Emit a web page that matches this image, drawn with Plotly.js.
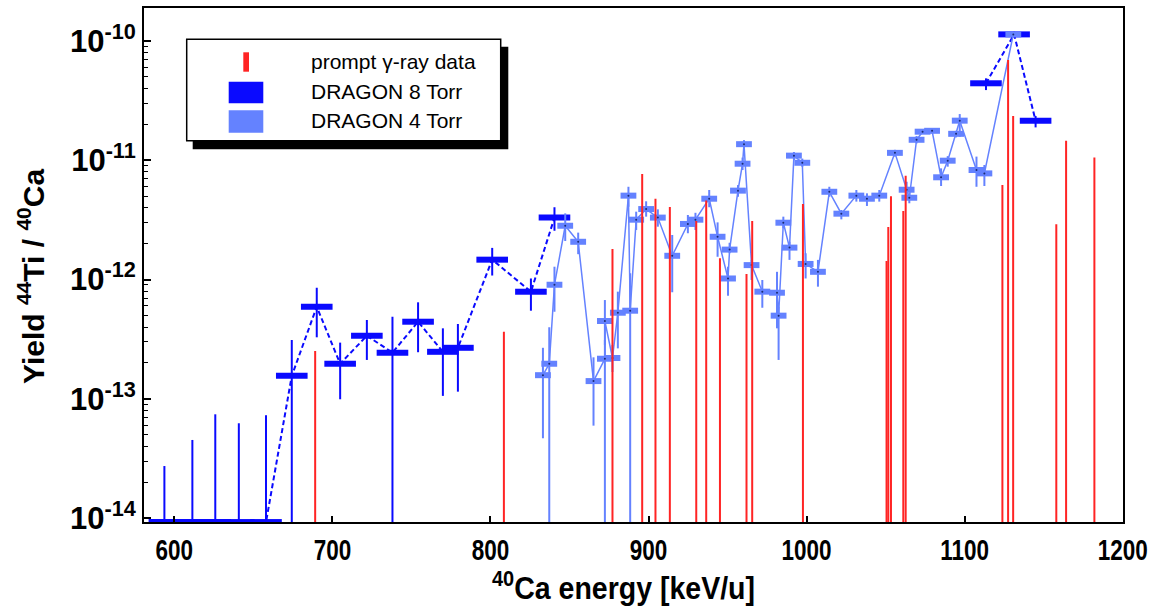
<!DOCTYPE html>
<html><head><meta charset="utf-8">
<script src="https://cdn.plot.ly/plotly-3.0.1.min.js"></script>
<style>html,body{margin:0;padding:0;background:#fff}#chart{width:1162px;height:610px}</style>
</head><body><div id="chart"></div>
<script>
// ---------- DRAGON 8 Torr (energy keV/u, yield, lower, upper, run) ----------
const e8 = [593.7, 611.4, 625.9, 640.8, 658.0, 674.3, 690.1, 704.9, 721.8, 738.0, 754.2, 769.9, 779.4, 801.1, 825.6, 840.5, 1113.5, 1131.3, 1144.9];
const y8 = [9.3e-15, 9.3e-15, 9.3e-15, 9.3e-15, 9.3e-15, 1.56e-13, 5.91e-13, 1.97e-13, 3.38e-13, 2.44e-13, 4.43e-13, 2.48e-13, 2.68e-13, 1.466e-12, 7.9e-13, 3.3e-12, 4.4e-11, 1.13e-10, 2.14e-11];
const lo8 = [9.3e-15, 9.3e-15, 9.3e-15, 9.3e-15, 9.3e-15, 1e-16, 3.28e-13, 9.93e-14, 2.12e-13, 1e-16, 2.46e-13, 1.06e-13, 1.15e-13, 1.08e-12, 5.48e-13, 2.56e-12, 3.86e-11, 1.08e-10, 1.88e-11];
const hi8 = [2.74e-14, 4.53e-14, 7.43e-14, 6.25e-14, 7.3e-14, 3.11e-13, 8.53e-13, 2.96e-13, 4.58e-13, 4.88e-13, 6.44e-13, 3.9e-13, 4.24e-13, 1.84e-12, 1.02e-12, 4.03e-12, 4.84e-11, 1.19e-10, 2.34e-11];
const run8 = [1,1,1,1,1,1,1,1,1,1,1,1,1,1,1,1,2,2,2];
const dE8 = 10;

// ---------- DRAGON 4 Torr ----------
const e4 = [833.2, 837.2, 840.5, 847.3, 855.5, 865.2, 872.4, 872.4, 877.2, 880.6, 887.3, 888.4, 892.2, 898.5, 905.9, 915.0, 924.9, 929.7, 938.4, 943.7, 950.3, 951.3, 956.6, 959.5, 960.4, 965.2, 972.0, 981.3, 982.3, 985.3, 989.2, 992.0, 997.3, 999.4, 1007.2, 1014.4, 1022.0, 1031.5, 1038.2, 1046.0, 1055.9, 1063.3, 1065.0, 1069.6, 1073.4, 1079.4, 1085.1, 1089.3, 1094.6, 1096.9, 1107.5, 1112.5, 1130.8];
const y4 = [1.58e-13, 1.97e-13, 9.04e-13, 2.82e-12, 2.07e-12, 1.41e-13, 2.17e-13, 4.49e-13, 2.2e-13, 5.27e-13, 5.04e-12, 5.48e-13, 3.17e-12, 3.89e-12, 3.30e-12, 1.58e-12, 2.92e-12, 3.17e-12, 4.75e-12, 2.28e-12, 1.02e-12, 1.78e-12, 5.55e-12, 9.33e-12, 1.36e-11, 1.32e-12, 7.91e-13, 7.75e-13, 4.98e-13, 2.99e-12, 1.85e-12, 1.09e-11, 9.5e-12, 1.35e-12, 1.16e-12, 5.43e-12, 3.56e-12, 5.04e-12, 4.75e-12, 5.04e-12, 1.15e-11, 5.65e-12, 4.84e-12, 1.48e-11, 1.73e-11, 1.76e-11, 7.18e-12, 9.89e-12, 1.66e-11, 2.14e-11, 8.26e-12, 7.74e-12, 1.13e-10];
const lo4 = [4.68e-14, 1e-16, 5.37e-13, 2.10e-12, 1.63e-12, 5.97e-14, 1e-16, 2.83e-13, 1.68e-13, 2.65e-13, 4.07e-12, 1e-16, 2.6e-12, 3.36e-12, 2.77e-12, 7.82e-13, 2.44e-12, 2.6e-12, 4.03e-12, 1.55e-12, 7.31e-13, 1.66e-12, 4.93e-12, 8.26e-12, 1.26e-11, 9.91e-13, 5.8e-13, 3.9e-13, 2.12e-13, 2.69e-12, 1.46e-12, 1.0e-11, 8.8e-12, 1.02e-12, 8.71e-13, 4.93e-12, 3.19e-12, 4.49e-12, 4.13e-12, 4.49e-12, 1.07e-11, 4.93e-12, 4.35e-12, 1.38e-11, 1.66e-11, 1.68e-11, 6.07e-12, 8.81e-12, 1.55e-11, 1.57e-11, 5.98e-12, 6.07e-12, 1.08e-10];
const hi4 = [2.68e-13, 3.98e-13, 1.28e-12, 3.58e-12, 2.47e-12, 2.23e-13, 3.11e-13, 6.73e-13, 2.83e-13, 7.91e-13, 5.98e-12, 1.13e-12, 3.7e-12, 4.52e-12, 3.87e-12, 2.36e-12, 3.47e-12, 3.62e-12, 5.62e-12, 3.01e-12, 1.28e-12, 2.03e-12, 6.18e-12, 1.05e-11, 1.47e-11, 1.46e-12, 9.91e-13, 1.16e-12, 5.91e-13, 3.36e-12, 2.07e-12, 1.17e-11, 1.03e-11, 1.66e-12, 1.46e-12, 5.98e-12, 3.82e-12, 5.62e-12, 5.27e-12, 5.62e-12, 1.22e-11, 6.59e-12, 5.27e-12, 1.59e-11, 1.82e-11, 1.84e-11, 8.53e-12, 1.08e-11, 1.76e-11, 2.43e-11, 1.07e-11, 9.1e-12, 1.18e-10];
const dE4 = 5;

// ---------- prompt gamma-ray data ----------
const eG = [689.1, 808.5, 877.2, 896.0, 904.4, 913.5, 930.2, 936.5, 945.2, 962.0, 965.6, 997.7, 1050.6, 1051.7, 1053.4, 1061.2, 1062.7, 1123.9, 1127.5, 1130.7, 1158.0, 1164.2, 1182.1];
const yG = [2.52e-13, 3.66e-13, 1.80e-12, 7.66e-12, 4.75e-12, 4.05e-12, 3.09e-12, 4.6e-12, 1.51e-12, 1.11e-12, 3.09e-12, 4.28e-12, 1.43e-12, 2.75e-12, 4.98e-12, 3.75e-12, 7.4e-12, 6.18e-12, 6.89e-11, 2.34e-11, 2.9e-12, 1.45e-11, 1.05e-11];

// ---------- axis ticks ----------
const yTickVals = [1e-14, 1e-13, 1e-12, 1e-11, 1e-10];
const yTickText = ['10<sup>-14</sup>', '10<sup>-13</sup>', '10<sup>-12</sup>', '10<sup>-11</sup>', '10<sup>-10</sup>'];
const xTickVals = [600, 700, 800, 900, 1000, 1100, 1200];

const C8 = '#0a0aff', C4 = '#6482ff', CR = '#ff2424';
const FLOOR = 1e-16;
const W = 1162, H = 610, M = {l:144, r:39, t:8, b:88};
const pw = W - M.l - M.r, ph = H - M.t - M.b;
const px = x => (x - M.l) / pw;
const py = y => (H - M.b - y) / ph;
const SANS = 'Liberation Sans, Arial, sans-serif';

const traces = [];
[...new Set(run8)].forEach(r => {
  const idx = run8.map((v,i)=>v===r?i:-1).filter(i=>i>=0);
  traces.push({
    type:'scatter', mode:'lines', showlegend:false,
    x: idx.map(i=>e8[i]), y: idx.map(i=>y8[i]),
    line:{color:C8, width:2, dash:'5px,3px'},
    error_x:{type:'data', array: idx.map(()=>dE8), color:C8, thickness:6, width:0},
    error_y:{type:'data', symmetric:false, array: idx.map(i=>hi8[i]-y8[i]), arrayminus: idx.map(i=>Math.max(y8[i]-lo8[i],0)), color:C8, thickness:2, width:0}
  });
});
traces.push({
  type:'scatter', mode:'lines+markers', showlegend:false,
  x:e4, y:y4,
  line:{color:C4, width:1.5},
  marker:{size:2, color:'#1a2a70'},
  error_x:{type:'data', array:e4.map(()=>dE4), color:C4, thickness:6, width:0},
  error_y:{type:'data', symmetric:false, array:y4.map((v,i)=>hi4[i]-v), arrayminus:y4.map((v,i)=>Math.max(v-lo4[i],0)), color:C4, thickness:2, width:0}
});
traces.push({
  type:'scatter', mode:'markers', showlegend:false,
  x:eG, y:yG, marker:{size:1, opacity:0},
  error_y:{type:'data', symmetric:false, array:yG.map(()=>0), arrayminus:yG.map(v=>v-FLOOR), color:CR, thickness:2, width:0}
});

const minorVals = [];
for (let d=-15; d<=-10; d++) for (let k=2; k<=9; k++) minorVals.push(k*Math.pow(10,d));

const shapes = [
  {type:'rect', xref:'paper', yref:'paper', x0:px(192.7), x1:px(508.3), y0:py(149.3), y1:py(46.7), fillcolor:'#000', line:{width:0}, layer:'above'},
  {type:'rect', xref:'paper', yref:'paper', x0:px(186.7), x1:px(500.7), y0:py(140.7), y1:py(39.3), fillcolor:'#fff', line:{color:'#000', width:1.5}, layer:'above'},
  {type:'rect', xref:'paper', yref:'paper', x0:px(243.3), x1:px(249), y0:py(71.7), y1:py(52.3), fillcolor:CR, line:{width:0}, layer:'above'},
  {type:'rect', xref:'paper', yref:'paper', x0:px(228.7), x1:px(263.3), y0:py(103.3), y1:py(81.7), fillcolor:C8, line:{width:0}, layer:'above'},
  {type:'rect', xref:'paper', yref:'paper', x0:px(228.7), x1:px(263.3), y0:py(132.7), y1:py(110.3), fillcolor:C4, line:{width:0}, layer:'above'}
];
const legFont = {family:SANS, size:21, color:'#000'};
const annotations = [
  ['prompt γ-ray data', 61.7], ['DRAGON 8 Torr', 91.7], ['DRAGON 4 Torr', 120.7]
].map(([t,y]) => ({xref:'paper', yref:'paper', x:px(309.3), y:py(y), xanchor:'left', yanchor:'middle', text:t, showarrow:false, font:legFont}));
annotations.push({xref:'paper', yref:'paper', x:px(31), y:py(277), xanchor:'center', yanchor:'middle', textangle:-90,
  text:'Yield <sup>44</sup>Ti / <sup>40</sup>Ca', showarrow:false, font:{family:SANS, size:30, weight:'bold', color:'#000'}});

const layout = {
  width:W, height:H, margin:M, paper_bgcolor:'#fff', plot_bgcolor:'#fff', showlegend:false,
  xaxis:{
    range:[580.8, 1200.2], tickmode:'array', tickvals:xTickVals, ticks:'inside', ticklen:6, tickwidth:2, tickcolor:'#000',
    showline:true, linecolor:'#000', linewidth:2, mirror:true, showgrid:false, zeroline:false,
    tickfont:{family:SANS, size:30, weight:'bold', color:'#000'},
    title:{text:'<sup>40</sup>Ca energy [keV/u]', standoff:10, font:{family:SANS, size:31, weight:'bold', color:'#000'}}
  },
  yaxis:{
    type:'log', range:[-14.031, -9.726], tickmode:'array', tickvals:yTickVals, ticktext:yTickText,
    ticks:'inside', ticklen:7, tickwidth:2, tickcolor:'#000',
    minor:{tickmode:'array', tickvals:minorVals, ticks:'inside', ticklen:4, tickwidth:1, tickcolor:'#000', showgrid:false},
    showline:true, linecolor:'#000', linewidth:2, mirror:true, showgrid:false, zeroline:false,
    tickfont:{family:SANS, size:31, weight:'bold', color:'#000'}
  },
  shapes, annotations
};

function squeeze(sel, s, dx) {
  document.querySelectorAll(sel).forEach(el => {
    const b = el.getBBox();
    const cx = b.x + b.width / 2;
    const t = el.getAttribute('transform') || '';
    el.setAttribute('transform', t + ` translate(${cx + (dx||0)},0) scale(${s},1) translate(${-cx},0)`);
  });
}
Plotly.newPlot('chart', traces, layout, {staticPlot:true, displayModeBar:false}).then(() => {
  squeeze('.xtick text', 0.75);
  squeeze('.g-xtitle text', 0.92, -10);
});
</script></body></html>
